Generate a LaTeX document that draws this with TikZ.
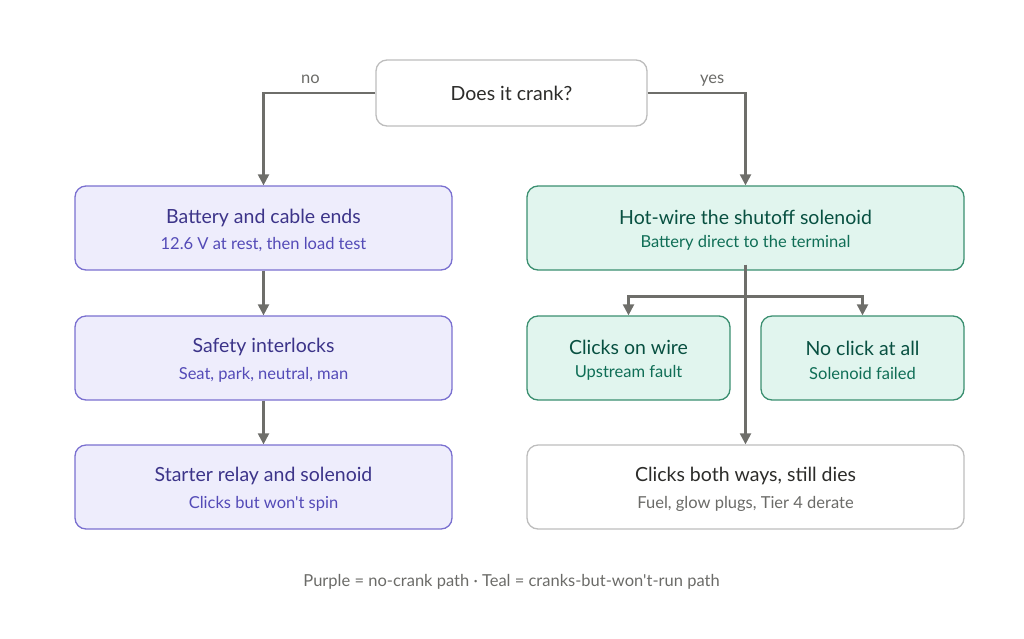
\documentclass[tikz,border=0pt]{standalone}
\usepackage{fontspec}
\setmainfont{Lato}[Ligatures=TeXOff]
\usetikzlibrary{arrows.meta,positioning}
\definecolor{pfill}{HTML}{EEEDFC}
\definecolor{pdraw}{HTML}{7A70D0}
\definecolor{ptitle}{HTML}{3C3489}
\definecolor{psub}{HTML}{534AB7}
\definecolor{tfill}{HTML}{E1F5EE}
\definecolor{tdraw}{HTML}{3A8F70}
\definecolor{ttitle}{HTML}{085041}
\definecolor{tsub}{HTML}{0F6E56}
\definecolor{gdraw}{HTML}{BDBDBD}
\definecolor{gtitle}{HTML}{2C2C2A}
\definecolor{gsub}{HTML}{6B6B68}
\definecolor{conn}{HTML}{6E6E6A}
\tikzset{
  box/.style={rounded corners=11pt, line width=1.3pt, inner sep=0pt, align=center},
  purplebox/.style={box, fill=pfill, draw=pdraw},
  tealbox/.style={box, fill=tfill, draw=tdraw},
  graybox/.style={box, fill=white, draw=gdraw},
  conn/.style={draw=conn, line width=2.2pt, -{Triangle[length=11pt,width=11pt]}},
  lbl/.style={font=\fontsize{16.5}{20}\selectfont, text=gsub},
}
\newcommand{\ttl}[2]{{\fontsize{19.5}{22}\selectfont\color{#1}\rule{0pt}{19pt}#2}}
\newcommand{\sbt}[2]{{\fontsize{16.5}{20}\selectfont\color{#1}#2}}
\begin{document}
\begin{tikzpicture}[x=1pt,y=-1pt]
\useasboundingbox (0,0) rectangle (1024,638);
% nodes
\node[graybox, minimum width=271pt, minimum height=66pt] (q) at (511.5,93) {{\fontsize{19.5}{22}\selectfont\color{gtitle}Does it crank?}};
\node[purplebox, minimum width=377pt, minimum height=84pt] (bat) at (263.5,228) {\ttl{ptitle}{Battery and cable ends}\\[10pt]\sbt{psub}{12.6 V at rest, then load test}};
\node[purplebox, minimum width=377pt, minimum height=84pt] (saf) at (263.5,358) {\ttl{ptitle}{Safety interlocks}\\[10pt]\sbt{psub}{Seat, park, neutral, man}};
\node[purplebox, minimum width=377pt, minimum height=84pt] (sta) at (263.5,487) {\ttl{ptitle}{Starter relay and solenoid}\\[10pt]\sbt{psub}{Clicks but won't spin}};
\node[tealbox, minimum width=437pt, minimum height=84pt] (hot) at (745.5,228) {\ttl{ttitle}{Hot-wire the shutoff solenoid}\\[10pt]\sbt{tsub}{Battery direct to the terminal}};
\node[tealbox, minimum width=203pt, minimum height=84pt] (cow) at (628.5,358) {\ttl{ttitle}{Clicks on wire}\\[10pt]\sbt{tsub}{Upstream fault}};
\node[tealbox, minimum width=203pt, minimum height=84pt] (noc) at (862.5,358) {\ttl{ttitle}{No click at all}\\[10pt]\sbt{tsub}{Solenoid failed}};
\node[graybox, minimum width=437pt, minimum height=84pt] (cbw) at (745.5,487) {\ttl{gtitle}{Clicks both ways, still dies}\\[10pt]\sbt{gsub}{Fuel, glow plugs, Tier 4 derate}};
\node[lbl] (leg) at (511.5,582) {Purple = no-crank path · Teal = cranks-but-won't-run path};
% connectors
\draw[conn] (q.west) -| node[lbl, pos=0.29, anchor=base, yshift=10pt] (nolbl) {no} (bat.north);
\draw[conn] (q.east) -| node[lbl, pos=0.33, anchor=base, yshift=10pt] (yeslbl) {yes} (hot.north);
\draw[conn] (bat) -- (saf);
\draw[conn] (saf) -- (sta);
\coordinate (br) at (745.5,296.5);
\draw[conn] ([yshift=6pt]hot.south) -- (cbw.north);
\draw[conn] (br) -| (cow.north);
\draw[conn] (br) -| (noc.north);
\end{tikzpicture}
\end{document}
